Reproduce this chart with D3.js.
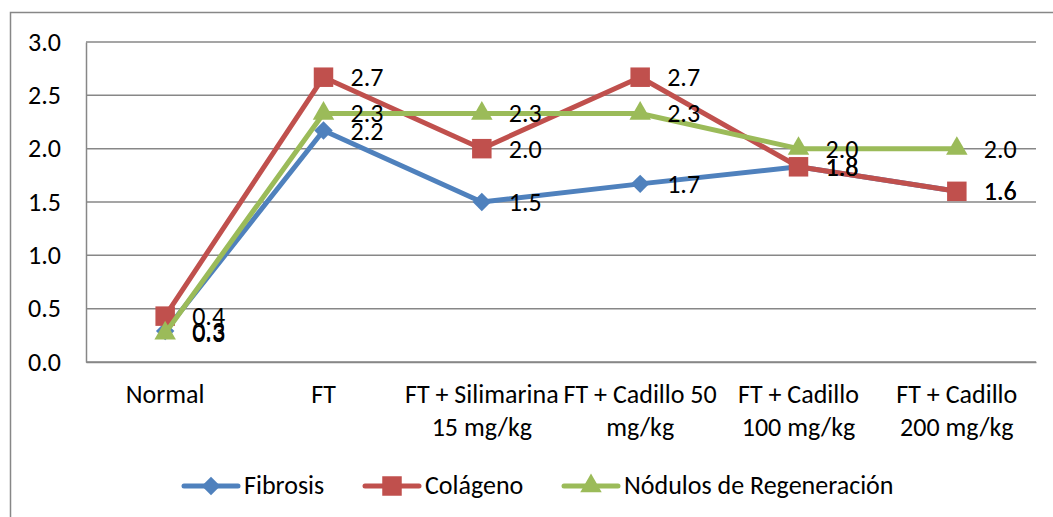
<!DOCTYPE html>
<html>
<head>
<meta charset="utf-8">
<title>Fibrosis chart</title>
<script src="https://cdn.jsdelivr.net/npm/d3@7"></script>
<style>
  body { margin: 0; background: #fff; overflow: hidden; }
  svg { display: block; }
  text { font-family: Carlito, "Open Sans", sans-serif; fill: #000; }
</style>
</head>
<body>
<script>
// data
var categories = ["Normal", "FT", "FT + Silimarina|15 mg/kg", "FT + Cadillo 50|mg/kg", "FT + Cadillo|100 mg/kg", "FT + Cadillo|200 mg/kg"];
var fibrosis = [0.29, 2.17, 1.5, 1.67, 1.83, 1.6];
var colageno = [0.43, 2.67, 2.0, 2.67, 1.83, 1.6];
var nodulos = [0.27, 2.33, 2.33, 2.33, 2.0, 2.0];
var yTicks = [0, 0.5, 1, 1.5, 2, 2.5, 3];
var seriesNames = ["Fibrosis", "Colágeno", "Nódulos de Regeneración"];

var w = 1053, h = 517;
var plotLeft = 86, plotRight = 1036, plotTop = 42, plotBottom = 362;
var fs = "26px";

var diamond = {draw: function(ctx, size) {
  var r = Math.sqrt(size / 2);
  ctx.moveTo(0, -r); ctx.lineTo(r, 0); ctx.lineTo(0, r); ctx.lineTo(-r, 0); ctx.closePath();
}};

var series = [
  {name: seriesNames[0], values: fibrosis, color: "#4F81BD", shape: diamond, size: 170},
  {name: seriesNames[1], values: colageno, color: "#C0504D", shape: d3.symbolSquare, size: 380},
  {name: seriesNames[2], values: nodulos, color: "#9BBB59", shape: d3.symbolTriangle, size: 200}
];

var svg = d3.select("body").append("svg").attr("width", w).attr("height", h);

// outer chart border
svg.append("rect")
  .attr("x", 10.5).attr("y", 12.5)
  .attr("width", 1100).attr("height", 600)
  .attr("fill", "none").attr("stroke", "#878787").attr("stroke-width", 1.5);

var x = d3.scaleBand().domain(categories).range([plotLeft, plotRight]);
var y = d3.scaleLinear().domain([0, 3]).range([plotBottom, plotTop]);
var cx = function(i){ return x(categories[i]) + x.bandwidth() / 2; };

// gridlines
svg.append("g").selectAll("line").data(yTicks).enter().append("line")
  .attr("x1", plotLeft).attr("x2", plotRight)
  .attr("y1", function(d){ return y(d); }).attr("y2", function(d){ return y(d); })
  .attr("stroke", "#878787").attr("stroke-width", 1.5);

// y axis
var yAxis = svg.append("g").attr("transform", "translate(" + plotLeft + ",0)")
  .call(d3.axisLeft(y).tickValues(yTicks).tickSize(0).tickPadding(25).tickFormat(d3.format(".1f")));
yAxis.select(".domain").attr("stroke", "#878787").attr("stroke-width", 1.5);
yAxis.selectAll("text").attr("font-size", fs).attr("font-family", null);

// x axis
var xAxis = svg.append("g").attr("transform", "translate(0," + plotBottom + ")")
  .call(d3.axisBottom(x).tickSize(0).tickFormat(""));
xAxis.select(".domain").attr("stroke", "#878787").attr("stroke-width", 1.5);

var catLabels = svg.append("g").selectAll("text").data(categories).enter().append("text")
  .attr("x", function(d){ return x(d) + x.bandwidth() / 2; })
  .attr("y", 403)
  .attr("text-anchor", "middle")
  .attr("font-size", fs);
catLabels.each(function(d){
  var parts = d.split("|");
  var t = d3.select(this);
  parts.forEach(function(p, i){
    t.append("tspan").attr("x", t.attr("x")).attr("dy", i === 0 ? 0 : 33).text(p);
  });
});

var line = d3.line()
  .x(function(d, i){ return cx(i); })
  .y(function(d){ return y(d); });

series.forEach(function(s){
  var g = svg.append("g");
  g.append("path").datum(s.values)
    .attr("d", line)
    .attr("fill", "none").attr("stroke", s.color).attr("stroke-width", 5)
    .attr("stroke-linejoin", "round");
  g.selectAll("path.m").data(s.values).enter().append("path").attr("class", "m")
    .attr("d", d3.symbol().type(s.shape).size(s.size))
    .attr("transform", function(d, i){ return "translate(" + cx(i) + "," + y(d) + ")"; })
    .attr("fill", s.color);
});

// value labels
series.forEach(function(s){
  svg.append("g").selectAll("text").data(s.values).enter().append("text")
    .attr("x", function(d, i){ return cx(i) + 27; })
    .attr("y", function(d){ return y(d) + 9; })
    .attr("font-size", fs)
    .text(function(d){ return d3.format(".1f")(d); });
});

// legend
var legX = [184, 365, 564];
var leg = svg.append("g").selectAll("g").data(series).enter().append("g")
  .attr("transform", function(d, i){ return "translate(" + legX[i] + ",486)"; });
leg.append("line").attr("x1", 0).attr("x2", 54)
  .attr("stroke", function(d){ return d.color; }).attr("stroke-width", 5).attr("stroke-linecap", "round");
leg.append("path")
  .attr("d", function(d){ return d3.symbol().type(d.shape).size(d.size)(); })
  .attr("transform", "translate(27,0)")
  .attr("fill", function(d){ return d.color; });
leg.append("text").attr("x", 60).attr("y", 8).attr("font-size", fs)
  .text(function(d){ return d.name; });
</script>
</body>
</html>
